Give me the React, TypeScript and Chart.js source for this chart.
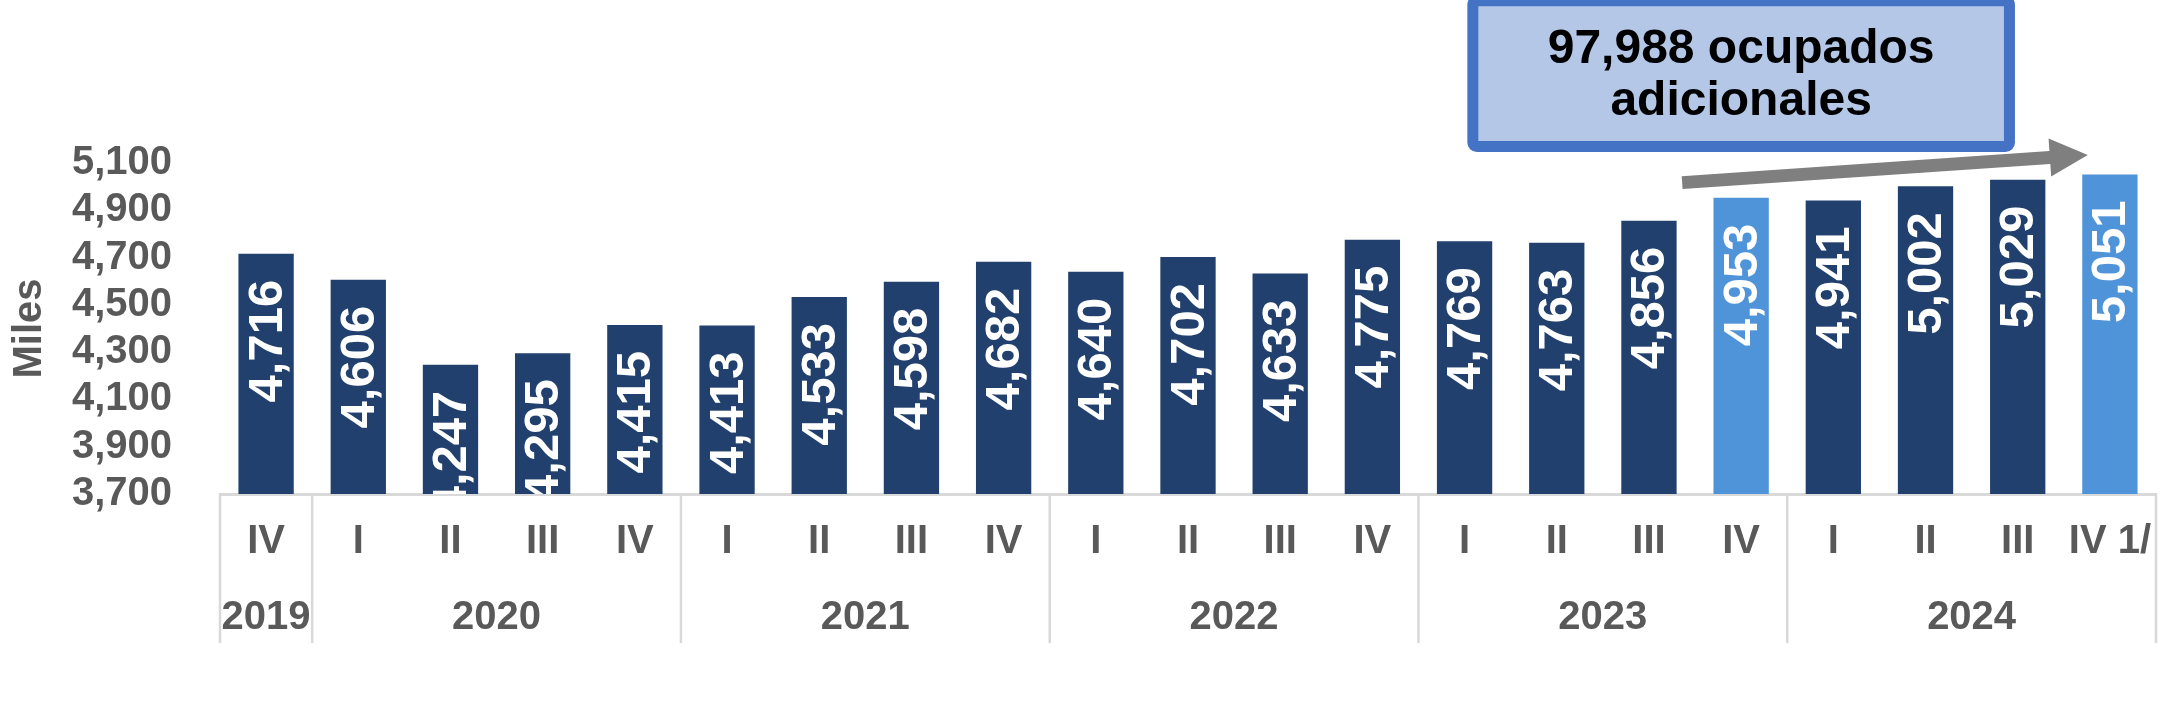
import React, { useEffect, useRef } from "react";
import { Chart, registerables } from "chart.js";

Chart.register(...registerables);

// ---- data ----
const quarters = ["IV", "I", "II", "III", "IV", "I", "II", "III", "IV", "I", "II", "III", "IV", "I", "II", "III", "IV", "I", "II", "III", "IV 1/"];
const ocupados = [4716, 4606, 4247, 4295, 4415, 4413, 4533, 4598, 4682, 4640, 4702, 4633, 4775, 4769, 4763, 4856, 4953, 4941, 5002, 5029, 5051];
const highlighted = [false, false, false, false, false, false, false, false, false, false, false, false, false, false, false, false, true, false, false, false, true];
const years = ["2019", "2020", "2021", "2022", "2023", "2024"];
const yearCounts = [1, 4, 4, 4, 4, 4];
const yTickMin = 3700;
const yTickMax = 5100;
const yTickStep = 200;
const annotationLines = ["97,988 ocupados", "adicionales"];

const DARK = "#21406D";
const LIGHT = "#4F94D8";
const GRAY_TEXT = "#595959";
const AXIS_GRAY = "#D9D9D9";
const FONT = "'Liberation Sans', Arial, Helvetica, sans-serif";

const fmt = (v: number) => Number(v).toLocaleString("en-US");

const barLabelPlugin = {
  id: "barLabels",
  afterDatasetsDraw(chart: any) {
    const { ctx, chartArea } = chart;
    const meta = chart.getDatasetMeta(0);
    ctx.save();
    ctx.beginPath();
    ctx.rect(chartArea.left, chartArea.top, chartArea.right - chartArea.left, chartArea.bottom - chartArea.top);
    ctx.clip();
    ctx.font = `bold 49px ${FONT}`;
    ctx.fillStyle = "#FFFFFF";
    ctx.textAlign = "right";
    ctx.textBaseline = "middle";
    meta.data.forEach((bar: any, i: number) => {
      const text = fmt(ocupados[i]);
      const len = ctx.measureText(text).width;
      const top = bar.y;
      const bottom = bar.base;
      const endY = Math.max(top - 3, Math.min(top + 26, bottom - len - 4));
      ctx.save();
      ctx.translate(bar.x, endY);
      ctx.rotate(-Math.PI / 2);
      ctx.fillText(text, 0, 2);
      ctx.restore();
    });
    ctx.restore();
  },
};

const groupAxisPlugin = {
  id: "groupAxis",
  afterDraw(chart: any) {
    const { ctx, chartArea } = chart;
    const xs = chart.scales.x;
    const bottom = chartArea.bottom;
    ctx.save();
    ctx.strokeStyle = AXIS_GRAY;
    ctx.lineWidth = 2.5;
    let idx = 0;
    const bounds: number[] = [idx];
    yearCounts.forEach((c) => {
      idx += c;
      bounds.push(idx);
    });
    bounds.forEach((b) => {
      const x = xs.getPixelForValue(b - 0.5);
      ctx.beginPath();
      ctx.moveTo(x, bottom);
      ctx.lineTo(x, bottom + 149);
      ctx.stroke();
    });
    ctx.font = `bold 40px ${FONT}`;
    ctx.fillStyle = GRAY_TEXT;
    ctx.textAlign = "center";
    ctx.textBaseline = "middle";
    years.forEach((y, i) => {
      const x0 = xs.getPixelForValue(bounds[i] - 0.5);
      const x1 = xs.getPixelForValue(bounds[i + 1] - 0.5);
      ctx.fillText(y, (x0 + x1) / 2, bottom + 124);
    });
    ctx.restore();
  },
};

const annotationPlugin = {
  id: "annotationBox",
  afterDraw(chart: any) {
    const { ctx } = chart;
    const xs = chart.scales.x;
    const ys = chart.scales.y;
    const xa = xs.getPixelForValue(13.03);
    const xb = xs.getPixelForValue(18.97);
    const ya = ys.getPixelForValue(5810);
    const yb = ys.getPixelForValue(5146);
    const bw = 11;
    ctx.save();
    ctx.beginPath();
    const rx = xa + bw / 2, ry = ya + bw / 2, rw = xb - xa - bw, rh = yb - ya - bw;
    (ctx as any).roundRect(rx, ry, rw, rh, 4);
    ctx.fillStyle = "#B4C7E7";
    ctx.fill();
    ctx.lineWidth = bw;
    ctx.strokeStyle = "#4472C4";
    ctx.stroke();
    ctx.fillStyle = "#000000";
    ctx.font = `bold 48px ${FONT}`;
    ctx.textAlign = "center";
    ctx.textBaseline = "alphabetic";
    const cx = xs.getPixelForValue(16);
    ctx.fillText(annotationLines[0], cx, ys.getPixelForValue(5523));
    ctx.fillText(annotationLines[1], cx, ys.getPixelForValue(5303));
    // arrow
    const x1 = xs.getPixelForValue(15.36);
    const y1 = ys.getPixelForValue(5017);
    const x2 = xs.getPixelForValue(19.76);
    const y2 = ys.getPixelForValue(5134);
    const dx = x2 - x1, dy = y2 - y1;
    const L = Math.hypot(dx, dy);
    const ux = dx / L, uy = dy / L;
    const nx = -uy, ny = ux;
    const headLen = 38, headHalf = 19, shaftHalf = 6.5;
    const bx = x2 - ux * headLen, by = y2 - uy * headLen;
    ctx.beginPath();
    ctx.moveTo(x1 + nx * shaftHalf, y1 + ny * shaftHalf);
    ctx.lineTo(bx + nx * shaftHalf, by + ny * shaftHalf);
    ctx.lineTo(bx + nx * headHalf, by + ny * headHalf);
    ctx.lineTo(x2, y2);
    ctx.lineTo(bx - nx * headHalf, by - ny * headHalf);
    ctx.lineTo(bx - nx * shaftHalf, by - ny * shaftHalf);
    ctx.lineTo(x1 - nx * shaftHalf, y1 - ny * shaftHalf);
    ctx.closePath();
    ctx.fillStyle = "#7F7F7F";
    ctx.fill();
    ctx.restore();
  },
};

export default function App() {
  const canvasRef = useRef<HTMLCanvasElement | null>(null);

  useEffect(() => {
    document.body.style.margin = "0";
    const canvas = canvasRef.current;
    if (!canvas) return;
    const chart = new Chart(canvas, {
      type: "bar",
      data: {
        labels: quarters,
        datasets: [
          {
            data: ocupados,
            backgroundColor: highlighted.map((h) => (h ? LIGHT : DARK)),
            barPercentage: 0.6,
            categoryPercentage: 1,
          },
        ],
      },
      options: {
        animation: false,
        responsive: true,
        maintainAspectRatio: false,
        layout: { padding: { top: 163, right: 25, bottom: 0, left: 0 } },
        plugins: {
          legend: { display: false },
          tooltip: { enabled: false },
        },
        scales: {
          x: {
            grid: { display: true, color: "rgba(0,0,0,0)", drawTicks: false, drawOnChartArea: false },
            border: { display: true, color: AXIS_GRAY, width: 3 },
            ticks: {
              autoSkip: false,
              maxRotation: 0,
              minRotation: 0,
              padding: 24,
              color: GRAY_TEXT,
              font: { family: FONT, size: 40, weight: "bold" },
            },
            afterFit: (scale: any) => {
              scale.height = 211;
            },
          },
          y: {
            min: yTickMin,
            max: yTickMax,
            grid: { display: false, drawTicks: false },
            border: { display: false },
            ticks: {
              stepSize: yTickStep,
              autoSkip: false,
              includeBounds: true,
              padding: 48,
              color: GRAY_TEXT,
              font: { family: FONT, size: 40, weight: "bold" },
              callback: (v: any) => fmt(v),
            },
            title: {
              display: true,
              text: "Miles",
              color: GRAY_TEXT,
              font: { family: FONT, size: 40, weight: "bold" },
              padding: { top: 6, bottom: 0 },
            },
            afterFit: (scale: any) => {
              scale.width = 220;
            },
          },
        },
      },
      plugins: [barLabelPlugin, groupAxisPlugin, annotationPlugin],
    } as any);
    return () => chart.destroy();
  }, []);

  return (
    <div style={{ width: "2181px", height: "705px", position: "relative", background: "#FFFFFF" }}>
      <canvas ref={canvasRef} />
    </div>
  );
}
